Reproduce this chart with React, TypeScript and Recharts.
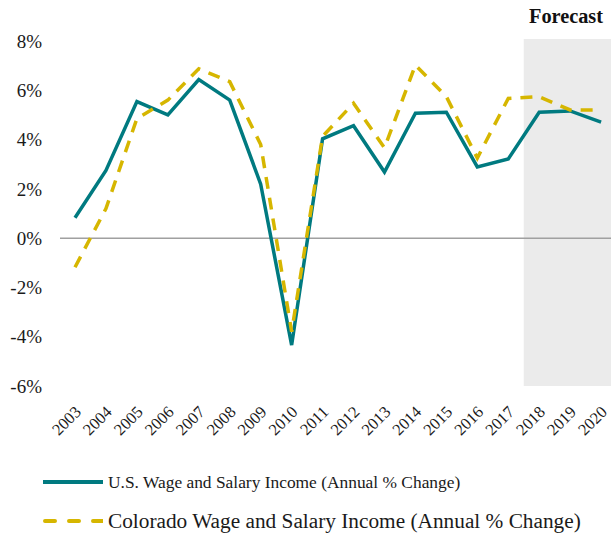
import React from "react";
import { LineChart, Line, XAxis, YAxis, ReferenceArea, ReferenceLine } from "recharts";

const years = [2003, 2004, 2005, 2006, 2007, 2008, 2009, 2010, 2011, 2012, 2013, 2014, 2015, 2016, 2017, 2018, 2019, 2020];
const usWage = [0.83, 2.75, 5.54, 5.0, 6.43, 5.6, 2.19, -4.34, 4.03, 4.56, 2.68, 5.07, 5.11, 2.89, 3.21, 5.11, 5.16, 4.71];
const coWage = [-1.18, 1.2, 4.85, 5.6, 6.87, 6.35, 3.8, -3.8, 4.13, 5.47, 3.66, 7.02, 5.74, 3.25, 5.67, 5.74, 5.2, 5.2];
const yTicks = [-6, -4, -2, 0, 2, 4, 6, 8];

const US_COLOR = "#007A80";
const CO_COLOR = "#D6B600";
const FONT = "Liberation Serif";

const data = years.map((y, i) => ({ year: y, us: usWage[i], co: coWage[i] }));

const YearTick = (props: any) => {
  const { x, y, payload } = props;
  const ax = x + 7;
  const ay = y + 19;
  return (
    <text
      x={ax}
      y={ay}
      transform={`rotate(-45, ${ax}, ${ay})`}
      textAnchor="end"
      fontSize={16.5}
      style={{ fontFamily: FONT }}
      fill="#1a1a1a"
    >
      {payload.value}
    </text>
  );
};

export default function App() {
  return (
    <div style={{ position: "absolute", left: 0, top: 0, width: 611, height: 535, background: "#fff", fontFamily: FONT }}>
      <div
        style={{
          position: "absolute",
          left: 529,
          top: 5,
          fontSize: 20.3,
          fontWeight: "bold",
          color: "#111",
        }}
      >
        Forecast
      </div>
      <LineChart width={611} height={535} data={data} margin={{ top: 39, right: 0, left: 0, bottom: 89 }}>
        <XAxis
          dataKey="year"
          type="number"
          domain={[2002.515, 2020.32]}
          ticks={years}
          interval={0}
          axisLine={false}
          tickLine={false}
          height={60}
          tick={<YearTick />}
        />
        <YAxis
          domain={[-6, 8]}
          ticks={yTicks}
          interval={0}
          width={60}
          axisLine={false}
          tickLine={false}
          tickMargin={12}
          tickFormatter={(v) => `${v}%`}
          tick={{ fontSize: 19, fill: "#1a1a1a", style: { fontFamily: FONT } }}
        />
        <ReferenceArea x1={2017.5} x2={2020.32} y1={-6} y2={8.08} fill="#EBEBEB" fillOpacity={1} stroke="none" ifOverflow="extendDomain" />
        <ReferenceLine y={0} stroke="#A0A0A0" strokeWidth={1.5} />
        <Line dataKey="us" stroke={US_COLOR} strokeWidth={3.5} dot={false} isAnimationActive={false} />
        <Line dataKey="co" stroke={CO_COLOR} strokeWidth={3.5} strokeDasharray="12 9" dot={false} isAnimationActive={false} />
      </LineChart>
      <div style={{ position: "absolute", left: 43, top: 469, color: "#1a1a1a" }}>
        <div style={{ display: "flex", alignItems: "center", height: 26, fontSize: 17.4 }}>
          <svg width={60} height={6} style={{ marginRight: 5 }}>
            <line x1={0} y1={3} x2={60} y2={3} stroke={US_COLOR} strokeWidth={4} strokeLinecap="round" />
          </svg>
          <span>U.S. Wage and Salary Income (Annual % Change)</span>
        </div>
        <div style={{ display: "flex", alignItems: "center", height: 26, marginTop: 13, fontSize: 21.3 }}>
          <svg width={60} height={6} style={{ marginRight: 5 }}>
            <line x1={2} y1={3} x2={60} y2={3} stroke={CO_COLOR} strokeWidth={4} strokeLinecap="round" strokeDasharray="10 14" />
          </svg>
          <span>Colorado Wage and Salary Income (Annual % Change)</span>
        </div>
      </div>
    </div>
  );
}
